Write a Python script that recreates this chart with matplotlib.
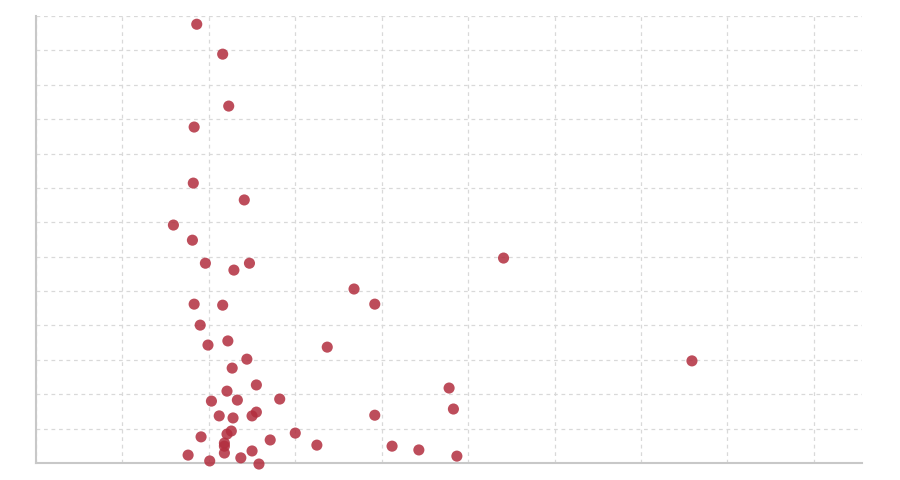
import matplotlib.pyplot as plt

# values (grid units)
x_vals = [1.86, 2.16, 2.23, 1.83, 1.82, 2.41, 1.59, 1.81, 1.96, 2.29, 2.47, 5.41,
          3.68, 3.92, 1.83, 2.16, 1.90, 1.99, 2.22, 3.37, 2.44, 7.59, 2.27, 2.55,
          2.21, 4.78, 2.03, 2.33, 2.82, 4.83, 3.92, 2.12, 2.28, 2.50, 2.55, 1.91,
          2.26, 2.21, 2.71, 3.00, 2.18, 2.18, 3.25, 4.12, 4.43, 1.76, 2.18, 2.50,
          2.37, 4.87, 2.01, 2.58]
y_vals = [12.76, 11.89, 10.38, 9.77, 8.14, 7.65, 6.92, 6.48, 5.81, 5.61, 5.81, 5.96,
          5.06, 4.62, 4.62, 4.59, 4.01, 3.43, 3.55, 3.37, 3.02, 2.97, 2.76, 2.27,
          2.09, 2.18, 1.80, 1.83, 1.86, 1.57, 1.39, 1.37, 1.31, 1.37, 1.48, 0.76,
          0.93, 0.84, 0.67, 0.87, 0.58, 0.49, 0.52, 0.49, 0.38, 0.23, 0.29, 0.35,
          0.15, 0.20, 0.06, -0.03]

fig = plt.figure(figsize=(9, 4.8), dpi=100)
ax = fig.add_axes([0.04, 0.0354, 0.918, 0.9313])

ax.scatter(x_vals, y_vals, s=64, color='#b22e3e', alpha=0.85, edgecolors='none',
           clip_on=False, zorder=3)

ax.set_xlim(0, 9.56)
ax.set_ylim(0, 13)
ax.set_xticks(range(0, 10))
ax.set_yticks(range(0, 14))
ax.tick_params(length=0, labelbottom=False, labelleft=False)
ax.grid(True, color='#d9d9d9', linestyle=(0, (3, 3)), linewidth=0.9)
ax.set_axisbelow(True)

for s in ['top', 'right']:
    ax.spines[s].set_visible(False)
for s in ['left', 'bottom']:
    ax.spines[s].set_color('#c8c8c8')
    ax.spines[s].set_linewidth(1.5)

fig.savefig('out.png', dpi=100)
